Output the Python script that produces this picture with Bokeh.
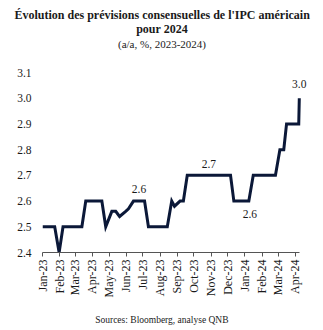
import pandas as pd
from math import pi
from bokeh.plotting import figure
from bokeh.models import (Label, Title, DatetimeTickFormatter, MonthsTicker, Range1d,
                          FixedTicker, NumeralTickFormatter)
from bokeh.embed import file_html
from bokeh.resources import INLINE

dates = ["2023-01-01", "2023-01-23", "2023-01-31", "2023-02-07", "2023-03-13", "2023-03-20",
         "2023-04-18", "2023-04-25", "2023-05-06", "2023-05-13", "2023-05-20", "2023-05-31",
         "2023-06-05", "2023-06-14", "2023-07-04", "2023-07-11", "2023-08-14", "2023-08-22",
         "2023-08-27", "2023-09-06", "2023-09-12", "2023-09-19", "2023-12-06", "2023-12-12",
         "2024-01-08", "2024-01-16", "2024-02-25", "2024-03-04", "2024-03-11", "2024-03-16",
         "2024-04-07", "2024-04-08"]
values = [2.5, 2.5, 2.4, 2.5, 2.5, 2.6,
          2.6, 2.5, 2.56, 2.56, 2.54, 2.56,
          2.57, 2.6, 2.6, 2.5, 2.5, 2.6,
          2.58, 2.6, 2.6, 2.7, 2.7, 2.6,
          2.6, 2.7, 2.7, 2.8, 2.8, 2.9,
          2.9, 3.0]
y_ticks = [2.4, 2.5, 2.6, 2.7, 2.8, 2.9, 3.0, 3.1]

ann_dates = ["2023-06-24", "2023-10-28", "2024-01-10", "2024-04-08"]
ann_values = [2.6, 2.7, 2.6, 3.0]
ann_texts = ["2.6", "2.7", "2.6", "3.0"]
ann_offsets = [12, 11, -13, 14]

title1 = "Évolution des prévisions consensuelles de l'IPC américain"
title2 = "pour 2024"
subtitle = "(a/a, %, 2023-2024)"
source = "Sources: Bloomberg, analyse QNB"

x = pd.to_datetime(dates)
FONT = "Liberation Serif"
LINE = "#0b1838"
TXT = "#1a1a1a"

p = figure(width=323, height=330, x_axis_type="datetime", output_backend="svg",
           toolbar_location=None,
           x_range=Range1d(pd.Timestamp("2023-01-01"), pd.Timestamp("2024-04-30")),
           y_range=Range1d(2.4, 3.1),
           min_border_left=42, min_border_right=12, min_border_top=72, min_border_bottom=78)
p.outline_line_color = None
p.xgrid.visible = False
p.ygrid.visible = False

p.line(x, values, line_color=LINE, line_width=3, line_join="miter")

p.yaxis.ticker = FixedTicker(ticks=y_ticks)
p.yaxis.formatter = NumeralTickFormatter(format="0.0")
p.yaxis.axis_line_color = None
p.yaxis.major_tick_line_color = None
p.yaxis.minor_tick_line_color = None
p.yaxis.major_tick_out = 0
p.yaxis.major_tick_in = 0
p.yaxis.minor_tick_out = 0
p.yaxis.minor_tick_in = 0
p.yaxis.major_label_standoff = 11
p.yaxis.major_label_text_font = FONT
p.yaxis.major_label_text_font_size = "11.5px"
p.yaxis.major_label_text_color = TXT

p.xaxis.ticker = MonthsTicker(months=list(range(12)))
p.xaxis.formatter = DatetimeTickFormatter(months="%b-%y", days="%b-%y")
p.xaxis.bounds = (pd.Timestamp("2023-01-01"), pd.Timestamp("2024-04-08"))
p.xaxis.major_label_orientation = pi / 2
p.xaxis.major_label_text_font = FONT
p.xaxis.major_label_text_font_size = "12px"
p.xaxis.major_label_text_color = TXT
p.xaxis.axis_line_color = "#555555"
p.xaxis.major_tick_line_color = "#555555"
p.xaxis.major_tick_out = 4
p.xaxis.major_tick_in = 0
p.xaxis.minor_tick_out = 0
p.xaxis.minor_tick_in = 0
p.xaxis.minor_tick_line_color = None
p.xaxis.major_label_standoff = 3

for d, v, t, off in zip(ann_dates, ann_values, ann_texts, ann_offsets):
    p.add_layout(Label(x=pd.Timestamp(d), y=v, text=t, text_font=FONT, text_font_size="11.5px",
                       text_color=TXT, text_align="center", text_baseline="middle",
                       y_offset=off))

p.title.visible = False
# spacer between frame and subtitle
p.add_layout(Title(text="\u00a0", text_font=FONT, text_font_size="2px",
                   standoff=19, text_color="white"), "above")
p.add_layout(Title(text=subtitle, text_font=FONT, text_font_size="11px",
                   text_font_style="normal", align="left", text_color=TXT,
                   standoff=0, offset=75.5), "above")
p.add_layout(Title(text=title2, text_font=FONT, text_font_size="12px",
                   text_font_style="bold", align="left", text_color=TXT,
                   standoff=0, offset=93.7), "above")
p.add_layout(Title(text=title1, text_font=FONT, text_font_size="12px",
                   text_font_style="bold", align="left", text_color=TXT,
                   standoff=-4, offset=-28), "above")
# spacer between axis and source
p.add_layout(Title(text="\u00a0", text_font=FONT, text_font_size="2px",
                   standoff=8, text_color="white"), "below")
p.add_layout(Title(text=source, text_font=FONT, text_font_size="9.5px",
                   text_font_style="normal", align="left", text_color=TXT,
                   standoff=0, offset=52.7), "below")

open("out.html", "w").write(file_html(p, INLINE))
